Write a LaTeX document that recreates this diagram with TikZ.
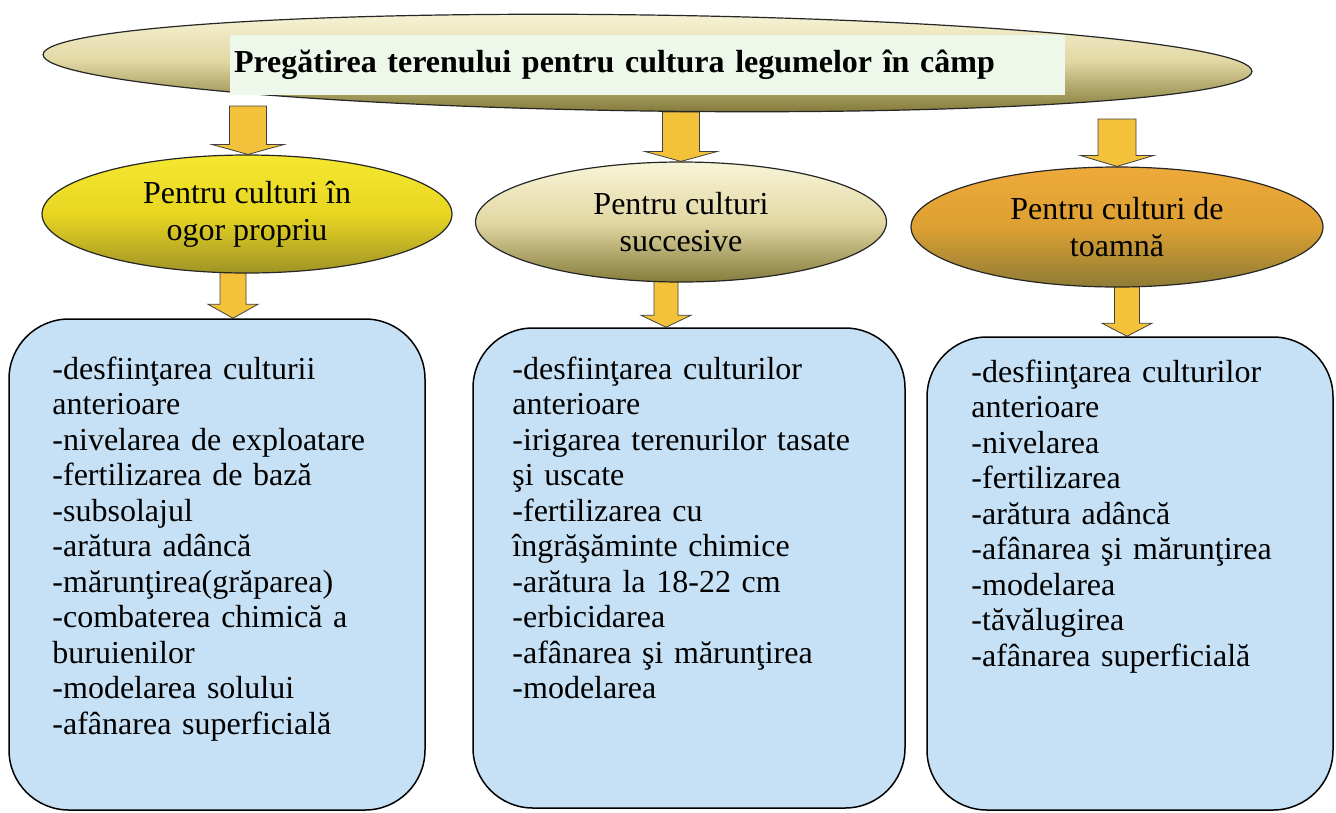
\documentclass[tikz,border=0pt]{standalone}
\usepackage{fontspec}
\setmainfont{Liberation Serif}
\usetikzlibrary{shapes.geometric,calc,backgrounds}

\definecolor{arrowgold}{HTML}{F4C23A}
\definecolor{boxblue}{HTML}{C6E1F5}
\definecolor{titlegreen}{HTML}{EDF8EA}
\definecolor{creamtop}{HTML}{F8F4D8}
\definecolor{creammid}{HTML}{E2D8A4}
\definecolor{olivebot}{HTML}{857C3C}
\definecolor{yellowtop}{HTML}{F5E830}
\definecolor{yellowmid}{HTML}{E8D622}
\definecolor{yellowbot}{HTML}{A09426}
\definecolor{orangetop}{HTML}{EEAA3A}
\definecolor{orangemid}{HTML}{DDA032}
\definecolor{orangebot}{HTML}{8E7C36}

% block arrow: start, tip, half shaft, half head, head length
\newcommand{\fatarrow}[5]{%
  \path[blockarrow] let \p1=#1, \p2=#2 in
    (\x1-#3,\y1) -- (\x1+#3,\y1) -- (\x1+#3,\y2+#5) -- (\x1+#4,\y2+#5)
    -- (\x1,\y2) -- (\x1-#4,\y2+#5) -- (\x1-#3,\y2+#5) -- cycle;}

\begin{document}
\begin{tikzpicture}[x=1pt,y=-1pt,
  bubble/.style={ellipse, draw=black!85, line width=1.2pt, inner sep=0pt, align=center, font=\fontsize{32}{37}\selectfont},
  listbox/.style={rectangle, rounded corners=60pt, draw=black, line width=1.5pt, fill=boxblue, inner sep=0pt},
  listtext/.style={anchor=base west, inner sep=0pt, text width=395pt, align=left, font=\fontsize{32}{35.5}\selectfont},
  blockarrow/.style={fill=arrowgold, draw=black!75, line width=0.8pt}]
\useasboundingbox (0,0) rectangle (1336,812);

% title
\node[bubble, minimum width=1209pt, minimum height=96pt, rotate=-0.8, top color=creamtop, bottom color=olivebot, middle color=creammid] (top) at (647.5,63) {};
\node[rectangle, fill=titlegreen, minimum height=60pt, text width=827pt, inner xsep=4pt, align=left, font=\bfseries\fontsize{32}{37}\selectfont] (title) at (647.5,65) {Pregătirea terenului pentru cultura legumelor în câmp};

% second row
\node[bubble, minimum width=410pt, minimum height=118pt, top color=yellowtop, bottom color=yellowbot, middle color=yellowmid] (l1) at (247,214) {Pentru culturi în\\ogor propriu};
\node[bubble, minimum width=411pt, minimum height=120pt, top color=creamtop, bottom color=olivebot, middle color=creammid] (l2) at (681,222) {Pentru culturi\\succesive};
\node[bubble, minimum width=412pt, minimum height=120pt, top color=orangetop, bottom color=orangebot, middle color=orangemid] (l3) at (1117,227) {Pentru culturi de\\toamnă};

% lists
\node[listbox, minimum width=416pt, minimum height=491pt] (b1) at (217,564.5) {};
\node[listbox, minimum width=432pt, minimum height=480pt] (b2) at (689,568) {};
\node[listbox, minimum width=406pt, minimum height=473pt] (b3) at (1130,573.5) {};

\node[listtext] (t1) at ([xshift=44pt,yshift=-61pt]b1.north west) {-desfiinţarea culturii\\anterioare\\-nivelarea de exploatare\\-fertilizarea de bază\\-subsolajul\\-arătura adâncă\\-mărunţirea(grăparea)\\-combaterea chimică a\\buruienilor\\-modelarea solului\\-afânarea superficială};
\node[listtext] (t2) at ([xshift=40pt,yshift=-52pt]b2.north west) {-desfiinţarea culturilor\\anterioare\\-irigarea terenurilor tasate\\şi uscate\\-fertilizarea cu\\îngrăşăminte chimice\\-arătura la 18-22 cm\\-erbicidarea\\-afânarea şi mărunţirea\\-modelarea};
\node[listtext] (t3) at ([xshift=45pt,yshift=-46pt]b3.north west) {-desfiinţarea culturilor\\anterioare\\-nivelarea\\-fertilizarea\\-arătura adâncă\\-afânarea şi mărunţirea\\-modelarea\\-tăvălugirea\\-afânarea superficială};

% arrows
\begin{scope}[on background layer]
\coordinate (a1) at (248,106);
\coordinate (a2) at (681,112);
\coordinate (a3) at (1117,119);
\coordinate (c1) at (233,271);
\coordinate (c2) at (666,280);
\coordinate (c3) at (1127,285);
\fatarrow{(a1)}{(l1.north)}{18.5pt}{36.5pt}{10pt}
\fatarrow{(a2)}{(l2.north)}{18.5pt}{36.5pt}{10pt}
\fatarrow{(a3)}{(l3.north)}{19pt}{37pt}{11pt}
\fatarrow{(c1)}{(b1.north)}{13pt}{25pt}{14pt}
\fatarrow{(c2)}{(b2.north)}{12pt}{25pt}{12pt}
\fatarrow{(c3)}{(b3.north)}{12.5pt}{25pt}{13pt}
\end{scope}
\end{tikzpicture}
\end{document}
